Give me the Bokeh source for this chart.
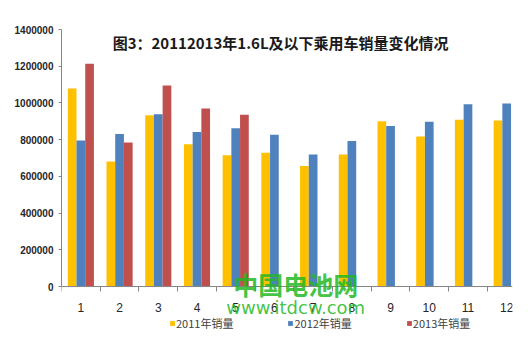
from bokeh.plotting import figure
from bokeh.models import (ColumnDataSource, FixedTicker, NumeralTickFormatter, Range1d,
                          Legend, LegendItem, Label)
from bokeh.transform import dodge
from bokeh.embed import file_html
from bokeh.resources import INLINE

months = [1, 2, 3, 4, 5, 6, 7, 8, 9, 10, 11, 12]
month_labels = ["1", "2", "3", "4", "5", "6", "7", "8", "9", "10", "11", "12"]
sales_2011 = [1078000, 681000, 933000, 775000, 715000, 728000, 657000, 719000, 900000, 817000, 908000, 904000]
sales_2012 = [795000, 831000, 939000, 841000, 862000, 826000, 719000, 792000, 875000, 897000, 993000, 997000]
months_2013 = [1, 2, 3, 4, 5]
sales_2013 = [1213000, 784000, 1095000, 970000, 935000]
series_names = ["2011年销量", "2012年销量", "2013年销量"]
y_ticks = [0, 200000, 400000, 600000, 800000, 1000000, 1200000, 1400000]
title_text = "图3：20112013年1.6L及以下乘用车销量变化情况"

c11, c12, c13 = "#FFC000", "#4F81BD", "#C0504D"

src = ColumnDataSource(dict(month=months, s11=sales_2011, s12=sales_2012))
src13 = ColumnDataSource(dict(month=months_2013, s13=sales_2013))

p = figure(width=528, height=352, output_backend="svg", toolbar_location=None,
           x_range=Range1d(0.5, 12.15), y_range=Range1d(-359500, 1400000),
           min_border_left=61, min_border_right=16, min_border_top=29, min_border_bottom=0)
p.outline_line_color = None
p.xgrid.visible = False
p.ygrid.visible = False
p.background_fill_color = "white"

w = 0.225
r1 = p.vbar(x=dodge("month", -w, range=p.x_range), top="s11", width=w, source=src,
            fill_color=c11, line_color=None)
r2 = p.vbar(x=dodge("month", 0, range=p.x_range), top="s12", width=w, source=src,
            fill_color=c12, line_color=None)
r3 = p.vbar(x=dodge("month", w, range=p.x_range), top="s13", width=w, source=src13,
            fill_color=c13, line_color=None)

ax = p.xaxis[0]
ax.fixed_location = 0
ax.ticker = FixedTicker(ticks=months, minor_ticks=[m - 0.5 for m in months] + [12.5])
ax.major_label_overrides = {m: l for m, l in zip(months, month_labels)}
ax.major_tick_out = 0
ax.major_tick_in = 0
ax.minor_tick_out = 5
ax.minor_tick_in = 0
ax.minor_tick_line_color = "#868686"
ax.axis_line_color = "#868686"
ax.major_label_text_font = "Liberation Sans"
ax.major_label_text_font_size = "12px"
ax.major_label_text_color = "#262626"
ax.major_label_standoff = 11

ay = p.yaxis[0]
ay.bounds = (0, 1400000)
ay.ticker = FixedTicker(ticks=y_ticks)
ay.formatter = NumeralTickFormatter(format="0")
ay.major_tick_out = 3
ay.major_tick_in = 0
ay.minor_tick_out = 0
ay.minor_tick_in = 0
ay.major_tick_line_color = "#868686"
ay.axis_line_color = "#868686"
ay.major_label_text_font = "Liberation Sans"
ay.major_label_text_font_style = "bold"
ay.major_label_text_font_size = "10px"
ay.major_label_text_color = "#262626"
ay.major_label_standoff = 5

p.add_layout(Label(x=6.16, y=1329000, text=title_text, text_align="center",
                   text_baseline="middle", text_font="Noto Sans CJK SC",
                   text_font_style="bold", text_font_size="15px", text_color="#1a1a1a"))

# watermark
p.add_layout(Label(x=6.55, y=16000, text="中国电池网", text_align="center",
                   text_baseline="middle", text_font="Noto Sans CJK SC",
                   text_font_style="bold", text_font_size="25px", text_color="#22B822",
                   text_alpha=0.85))
p.add_layout(Label(x=6.55, y=-117000, text="www.itdcw.com", text_align="center",
                   text_baseline="middle", text_font="DejaVu Sans",
                   text_font_size="18px", text_color="#22B822", text_alpha=0.85))

legend = Legend(items=[LegendItem(label=series_names[0], renderers=[r1]),
                       LegendItem(label=series_names[1], renderers=[r2]),
                       LegendItem(label=series_names[2], renderers=[r3])],
                orientation="horizontal", location=(108, 21),
                glyph_width=6, glyph_height=6, label_standoff=1, spacing=54,
                padding=0, margin=0, border_line_alpha=0, background_fill_alpha=0,
                label_text_font="Noto Sans CJK SC", label_text_font_size="11px",
                label_text_color="#404040", label_height=12)
p.add_layout(legend, "center")

open("out.html", "w").write(file_html(p, INLINE))
